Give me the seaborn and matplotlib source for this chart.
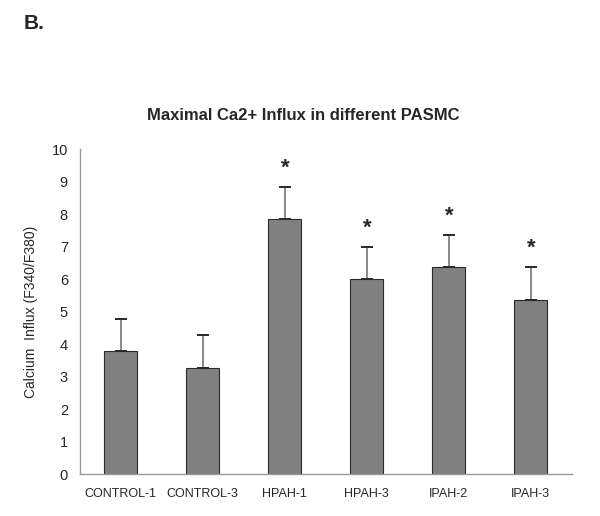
import numpy as np
import pandas as pd
import matplotlib
matplotlib.use("Agg")
import matplotlib.pyplot as plt
from matplotlib import font_manager
import seaborn as sns

# données
cells = ["CONTROL-1", "CONTROL-3", "HPAH-1", "HPAH-3", "IPAH-2", "IPAH-3"]
influx = [3.78, 3.26, 7.85, 6.0, 6.37, 5.35]
sem = [1.0, 1.02, 1.0, 0.99, 0.99, 1.02]
signif = [False, False, True, True, True, True]

df = pd.DataFrame({"cell": cells, "influx": influx})

sns.set_style("white")
plt.rcParams['font.family'] = ['Liberation Sans', 'DejaVu Sans']

# police étroite pour les étiquettes x si disponible
installed = {f.name for f in font_manager.fontManager.ttflist}
narrow = 'Liberation Sans Narrow' if 'Liberation Sans Narrow' in installed else 'Liberation Sans'
xsize = 10.5 if narrow == 'Liberation Sans Narrow' else 9

fig = plt.figure(figsize=(6.0, 5.16), dpi=100)
ax = fig.add_axes([0.133, 0.081, 0.82, 0.63])

sns.barplot(data=df, x="cell", y="influx", color="#808080", width=0.4,
            edgecolor="#2b2b2b", linewidth=0.8, saturation=1, ax=ax)

x = np.arange(len(cells))
ax.errorbar(x, influx, yerr=[np.zeros(len(sem)), sem], fmt="none",
            ecolor="#808080", elinewidth=1.3, capsize=4, capthick=1.3)
ax.errorbar(x, influx, yerr=[np.zeros(len(sem)), sem], fmt="none",
            ecolor="#222222", elinewidth=0, capsize=4, capthick=1.3)

for i in range(len(cells)):
    if signif[i]:
        ax.text(x[i], influx[i] + sem[i] + 0.25, "*", ha="center", va="bottom",
                fontsize=16, fontweight="bold")

ax.set_ylim(0, 10)
ax.set_xlim(-0.5, len(cells) - 0.5)
ax.set_yticks(range(0, 11))
ax.set_xticks(np.arange(-0.5, len(cells), 1.0), minor=True)
ax.tick_params(axis="x", which="major", length=0, pad=10)
ax.tick_params(axis="x", which="minor", length=5, color="#999999", direction="out")
ax.tick_params(axis="y", length=5, color="#999999", direction="out", labelsize=10.5)
for lab in ax.get_xticklabels():
    lab.set_family([narrow, 'DejaVu Sans'])
    lab.set_fontsize(xsize)

for s in ["top", "right"]:
    ax.spines[s].set_visible(False)
for s in ["left", "bottom"]:
    ax.spines[s].set_color("#999999")
    ax.spines[s].set_linewidth(1.0)

ax.set_xlabel("")
ax.set_ylabel("Calcium  Influx (F340/F380)", fontsize=10, labelpad=10)
fig.text(0.505, 0.777, "Maximal Ca2+ Influx in different PASMC", fontsize=12,
         fontweight="bold", ha="center", va="center")

fig.text(0.04, 0.955, "B.", fontsize=15, fontweight="bold", va="center")

plt.savefig("out.png", dpi=100)
